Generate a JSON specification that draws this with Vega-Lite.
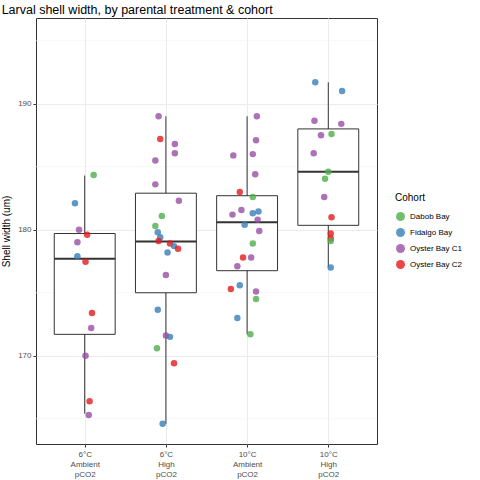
{
  "$schema": "https://vega.github.io/schema/vega-lite/v6.json",
  "width": 341,
  "height": 426,
  "autosize": {"type": "none"},
  "padding": {"left": 36, "top": 18, "right": 103, "bottom": 36},
  "title": {"text": "Larval shell width, by parental treatment & cohort", "anchor": "start", "fontSize": 12.5, "fontWeight": "normal", "font": "Liberation Sans", "color": "black", "offset": 2},
  "datasets": {
    "boxes": [
      {"grp": 1, "lo": 165.4, "q1": 171.7, "med": 177.7, "q3": 179.7, "hi": 184.3},
      {"grp": 2, "lo": 164.6, "q1": 175.0, "med": 179.07, "q3": 182.9, "hi": 189.0},
      {"grp": 3, "lo": 171.7, "q1": 176.75, "med": 180.6, "q3": 182.7, "hi": 189.0},
      {"grp": 4, "lo": 177.0, "q1": 180.35, "med": 184.6, "q3": 188.0, "hi": 191.7}
    ],
    "minor": [{"v": 165}, {"v": 175}, {"v": 185}, {"v": 195}],
    "points": [
      {"grp": 1, "jit": 0.11, "width": 184.34, "cohort": "Dabob Bay"},
      {"grp": 1, "jit": -0.12, "width": 182.1, "cohort": "Fidalgo Bay"},
      {"grp": 1, "jit": -0.07, "width": 180.0, "cohort": "Oyster Bay C1"},
      {"grp": 1, "jit": 0.03, "width": 179.6, "cohort": "Oyster Bay C2"},
      {"grp": 1, "jit": -0.09, "width": 179.0, "cohort": "Oyster Bay C1"},
      {"grp": 1, "jit": -0.09, "width": 177.9, "cohort": "Fidalgo Bay"},
      {"grp": 1, "jit": 0.01, "width": 177.46, "cohort": "Oyster Bay C2"},
      {"grp": 1, "jit": 0.09, "width": 173.4, "cohort": "Oyster Bay C2"},
      {"grp": 1, "jit": 0.08, "width": 172.2, "cohort": "Oyster Bay C1"},
      {"grp": 1, "jit": 0.01, "width": 170.0, "cohort": "Oyster Bay C1"},
      {"grp": 1, "jit": 0.06, "width": 166.4, "cohort": "Oyster Bay C2"},
      {"grp": 1, "jit": 0.05, "width": 165.3, "cohort": "Oyster Bay C1"},
      {"grp": 2, "jit": -0.09, "width": 189.0, "cohort": "Oyster Bay C1"},
      {"grp": 2, "jit": -0.07, "width": 187.2, "cohort": "Oyster Bay C2"},
      {"grp": 2, "jit": 0.11, "width": 186.8, "cohort": "Oyster Bay C1"},
      {"grp": 2, "jit": 0.11, "width": 186.06, "cohort": "Oyster Bay C1"},
      {"grp": 2, "jit": -0.13, "width": 185.5, "cohort": "Oyster Bay C1"},
      {"grp": 2, "jit": -0.13, "width": 183.6, "cohort": "Oyster Bay C1"},
      {"grp": 2, "jit": 0.16, "width": 182.3, "cohort": "Oyster Bay C1"},
      {"grp": 2, "jit": -0.05, "width": 181.1, "cohort": "Dabob Bay"},
      {"grp": 2, "jit": -0.13, "width": 180.3, "cohort": "Dabob Bay"},
      {"grp": 2, "jit": -0.1, "width": 179.8, "cohort": "Fidalgo Bay"},
      {"grp": 2, "jit": -0.07, "width": 179.4, "cohort": "Fidalgo Bay"},
      {"grp": 2, "jit": -0.09, "width": 179.1, "cohort": "Oyster Bay C2"},
      {"grp": 2, "jit": 0.05, "width": 178.9, "cohort": "Oyster Bay C2"},
      {"grp": 2, "jit": 0.1, "width": 178.7, "cohort": "Fidalgo Bay"},
      {"grp": 2, "jit": 0.15, "width": 178.5, "cohort": "Oyster Bay C2"},
      {"grp": 2, "jit": 0.02, "width": 178.2, "cohort": "Fidalgo Bay"},
      {"grp": 2, "jit": 0.0, "width": 176.4, "cohort": "Oyster Bay C1"},
      {"grp": 2, "jit": -0.1, "width": 173.65, "cohort": "Fidalgo Bay"},
      {"grp": 2, "jit": 0.0, "width": 171.6, "cohort": "Oyster Bay C1"},
      {"grp": 2, "jit": 0.05, "width": 171.5, "cohort": "Fidalgo Bay"},
      {"grp": 2, "jit": -0.11, "width": 170.6, "cohort": "Dabob Bay"},
      {"grp": 2, "jit": 0.1, "width": 169.4, "cohort": "Oyster Bay C2"},
      {"grp": 2, "jit": -0.04, "width": 164.6, "cohort": "Fidalgo Bay"},
      {"grp": 3, "jit": 0.12, "width": 189.0, "cohort": "Oyster Bay C1"},
      {"grp": 3, "jit": 0.11, "width": 187.1, "cohort": "Oyster Bay C1"},
      {"grp": 3, "jit": -0.17, "width": 185.9, "cohort": "Oyster Bay C1"},
      {"grp": 3, "jit": 0.07, "width": 186.0, "cohort": "Oyster Bay C1"},
      {"grp": 3, "jit": 0.1, "width": 184.4, "cohort": "Oyster Bay C1"},
      {"grp": 3, "jit": -0.09, "width": 183.0, "cohort": "Oyster Bay C2"},
      {"grp": 3, "jit": 0.07, "width": 182.6, "cohort": "Dabob Bay"},
      {"grp": 3, "jit": -0.07, "width": 181.56, "cohort": "Oyster Bay C1"},
      {"grp": 3, "jit": -0.18, "width": 181.2, "cohort": "Oyster Bay C1"},
      {"grp": 3, "jit": 0.07, "width": 181.3, "cohort": "Fidalgo Bay"},
      {"grp": 3, "jit": 0.14, "width": 181.45, "cohort": "Fidalgo Bay"},
      {"grp": 3, "jit": 0.13, "width": 180.8, "cohort": "Oyster Bay C1"},
      {"grp": 3, "jit": -0.03, "width": 180.4, "cohort": "Fidalgo Bay"},
      {"grp": 3, "jit": 0.15, "width": 179.9, "cohort": "Oyster Bay C1"},
      {"grp": 3, "jit": 0.07, "width": 178.9, "cohort": "Dabob Bay"},
      {"grp": 3, "jit": -0.05, "width": 177.8, "cohort": "Oyster Bay C2"},
      {"grp": 3, "jit": 0.05, "width": 177.8, "cohort": "Oyster Bay C1"},
      {"grp": 3, "jit": -0.12, "width": 177.1, "cohort": "Oyster Bay C1"},
      {"grp": 3, "jit": -0.2, "width": 175.3, "cohort": "Oyster Bay C2"},
      {"grp": 3, "jit": -0.09, "width": 175.6, "cohort": "Fidalgo Bay"},
      {"grp": 3, "jit": 0.11, "width": 175.1, "cohort": "Oyster Bay C1"},
      {"grp": 3, "jit": 0.11, "width": 174.5, "cohort": "Dabob Bay"},
      {"grp": 3, "jit": -0.12, "width": 173.0, "cohort": "Fidalgo Bay"},
      {"grp": 3, "jit": 0.04, "width": 171.7, "cohort": "Dabob Bay"},
      {"grp": 4, "jit": -0.16, "width": 191.7, "cohort": "Fidalgo Bay"},
      {"grp": 4, "jit": 0.17, "width": 191.0, "cohort": "Fidalgo Bay"},
      {"grp": 4, "jit": -0.17, "width": 188.65, "cohort": "Oyster Bay C1"},
      {"grp": 4, "jit": 0.16, "width": 188.4, "cohort": "Oyster Bay C1"},
      {"grp": 4, "jit": -0.09, "width": 187.5, "cohort": "Oyster Bay C1"},
      {"grp": 4, "jit": 0.04, "width": 187.6, "cohort": "Dabob Bay"},
      {"grp": 4, "jit": -0.18, "width": 186.06, "cohort": "Oyster Bay C1"},
      {"grp": 4, "jit": 0.0, "width": 184.6, "cohort": "Dabob Bay"},
      {"grp": 4, "jit": -0.04, "width": 184.05, "cohort": "Dabob Bay"},
      {"grp": 4, "jit": -0.05, "width": 182.6, "cohort": "Oyster Bay C1"},
      {"grp": 4, "jit": 0.04, "width": 181.0, "cohort": "Oyster Bay C2"},
      {"grp": 4, "jit": 0.03, "width": 179.7, "cohort": "Oyster Bay C2"},
      {"grp": 4, "jit": 0.03, "width": 179.3, "cohort": "Oyster Bay C2"},
      {"grp": 4, "jit": 0.03, "width": 179.1, "cohort": "Dabob Bay"},
      {"grp": 4, "jit": 0.03, "width": 177.0, "cohort": "Fidalgo Bay"}
    ]
  },
  "layer": [
    {
      "data": {"name": "minor"},
      "mark": {"type": "rule", "color": "#F2F2F2", "strokeWidth": 0.6},
      "encoding": {"y": {"field": "v", "type": "quantitative", "scale": {"domain": [163, 196.8], "nice": false, "zero": false},
        "axis": {"values": [170, 180, 190], "title": "Shell width (um)", "titleFont": "Liberation Sans", "titleFontSize": 10, "titleFontWeight": "normal", "titleColor": "black", "grid": true, "gridColor": "#EBEBEB", "domain": false, "tickColor": "#333333", "tickSize": 3, "labelFont": "Liberation Sans", "labelFontSize": 8, "labelColor": "#4D4D4D", "titlePadding": 6}}}
    },
    {
      "data": {"name": "boxes"},
      "mark": {"type": "rule", "color": "#333333", "strokeWidth": 1},
      "encoding": {
        "x": {"field": "grp", "type": "quantitative", "scale": {"domain": [0.4, 4.6], "nice": false, "zero": false},
          "axis": {"values": [1, 2, 3, 4], "title": null, "grid": true, "gridColor": "#EBEBEB", "domain": false, "tickColor": "#333333", "tickSize": 3, "labelFont": "Liberation Sans", "labelFontSize": 8, "labelColor": "#4D4D4D", "labelPadding": 3,
            "labelExpr": "datum.value == 1 ? ['6°C','Ambient','pCO2'] : datum.value == 2 ? ['6°C','High','pCO2'] : datum.value == 3 ? ['10°C','Ambient','pCO2'] : ['10°C','High','pCO2']"}},
        "y": {"field": "lo", "type": "quantitative"},
        "y2": {"field": "hi"}
      }
    },
    {
      "data": {"name": "boxes"},
      "transform": [{"calculate": "datum.grp - 0.375", "as": "x1"}, {"calculate": "datum.grp + 0.375", "as": "x2"}],
      "mark": {"type": "rect", "fill": "white", "stroke": "#333333", "strokeWidth": 1},
      "encoding": {
        "x": {"field": "x1", "type": "quantitative"},
        "x2": {"field": "x2"},
        "y": {"field": "q1", "type": "quantitative"},
        "y2": {"field": "q3"}
      }
    },
    {
      "data": {"name": "boxes"},
      "transform": [{"calculate": "datum.grp - 0.375", "as": "x1"}, {"calculate": "datum.grp + 0.375", "as": "x2"}],
      "mark": {"type": "rule", "color": "#333333", "strokeWidth": 2},
      "encoding": {
        "x": {"field": "x1", "type": "quantitative"},
        "x2": {"field": "x2"},
        "y": {"field": "med", "type": "quantitative"}
      }
    },
    {
      "data": {"name": "points"},
      "transform": [{"calculate": "datum.grp + datum.jit", "as": "xp"}],
      "mark": {"type": "circle", "size": 42, "opacity": 0.8},
      "encoding": {
        "x": {"field": "xp", "type": "quantitative"},
        "y": {"field": "width", "type": "quantitative"},
        "color": {"field": "cohort", "type": "nominal", "title": "Cohort",
          "scale": {"domain": ["Dabob Bay", "Fidalgo Bay", "Oyster Bay C1", "Oyster Bay C2"], "range": ["#4DAF4A", "#377EB8", "#984EA3", "#E41A1C"]},
          "legend": {"orient": "none", "legendX": 359, "legendY": 175, "titleFont": "Liberation Sans", "titleFontSize": 10, "titleFontWeight": "normal", "titleColor": "black", "labelFont": "Liberation Sans", "labelFontSize": 8, "labelColor": "black", "symbolSize": 80, "symbolOpacity": 0.8, "rowPadding": 6, "titlePadding": 8}}
      }
    }
  ],
  "config": {"view": {"stroke": "#333333", "strokeWidth": 1}, "font": "Liberation Sans"}
}
